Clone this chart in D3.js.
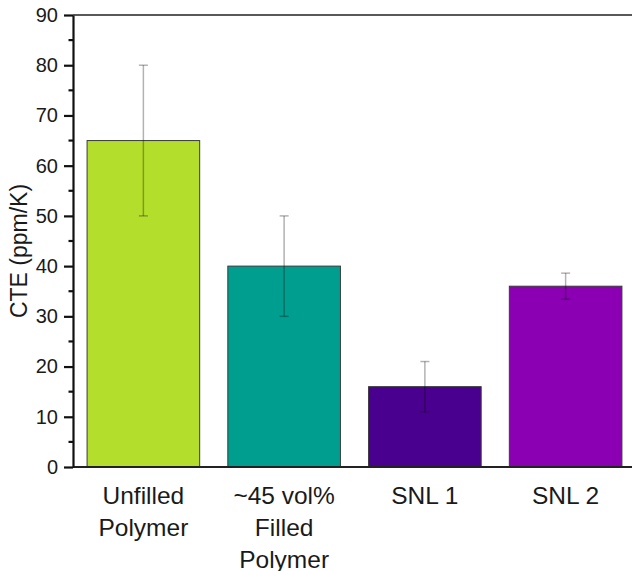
<!DOCTYPE html>
<html>
<head>
<meta charset="utf-8">
<script src="https://cdn.jsdelivr.net/npm/d3@7"></script>
<style>
  body { margin: 0; background: #fff; }
  text { font-family: "Liberation Sans", Arial, sans-serif; fill: #1a1a1a; }
</style>
</head>
<body>
<svg></svg>
<script>
var svg_width = 632;
var svg_height = 571;

// data
var categories = ['Unfilled\nPolymer', '~45 vol%\nFilled\nPolymer', 'SNL 1', 'SNL 2'];
var cte_values = [65, 40, 16, 36];
var cte_errors = [15, 10, 5, 2.6];
var bar_colors = ['#b4de2c', '#009e8e', '#4a008e', '#8b00b3'];
var major_ticks = [0, 10, 20, 30, 40, 50, 60, 70, 80, 90];
var minor_ticks = [5, 15, 25, 35, 45, 55, 65, 75, 85];

var plot_left = 73, plot_top = 15, plot_bottom = 467, plot_right = 636;

var svg = d3.select('svg')
  .attr('width', svg_width)
  .attr('height', svg_height);

var xScale = d3.scaleBand()
  .domain(d3.range(categories.length))
  .range([plot_left, plot_right])
  .paddingInner(0.2)
  .paddingOuter(0.1);

var yScale = d3.scaleLinear().domain([0, 90]).range([plot_bottom, plot_top]);

var rows = categories.map(function(c, i) {
  return {'label': c, 'value': cte_values[i], 'err': cte_errors[i], 'color': bar_colors[i], 'index': i};
});

// bars
svg.selectAll('rect.bar')
  .data(rows)
  .enter()
  .append('rect')
  .attr('class', 'bar')
  .attr('x', function(d) {return(xScale(d['index']));})
  .attr('y', function(d) {return(yScale(d['value']));})
  .attr('width', xScale.bandwidth())
  .attr('height', function(d) {return(yScale(0) - yScale(d['value']));})
  .attr('fill', function(d) {return(d['color']);})
  .attr('stroke', '#3a3a3a')
  .attr('stroke-width', 1);

// error bars, drawn semi transparent on top of the bars
var err = svg.selectAll('g.err')
  .data(rows)
  .enter()
  .append('g')
  .attr('class', 'err')
  .attr('stroke', 'rgba(0,0,0,0.3)')
  .attr('stroke-width', 1.5);

err.append('line')
  .attr('x1', function(d) {return(xScale(d['index']) + xScale.bandwidth() / 2);})
  .attr('x2', function(d) {return(xScale(d['index']) + xScale.bandwidth() / 2);})
  .attr('y1', function(d) {return(yScale(d['value'] + d['err']));})
  .attr('y2', function(d) {return(yScale(d['value'] - d['err']));});

[1, -1].forEach(function(sign) {
  err.append('line')
    .attr('x1', function(d) {return(xScale(d['index']) + xScale.bandwidth() / 2 - 4.5);})
    .attr('x2', function(d) {return(xScale(d['index']) + xScale.bandwidth() / 2 + 4.5);})
    .attr('y1', function(d) {return(yScale(d['value'] + sign * d['err']));})
    .attr('y2', function(d) {return(yScale(d['value'] + sign * d['err']));});
});

// frame: top line and bottom line
svg.append('line')
  .attr('x1', plot_left).attr('x2', plot_right)
  .attr('y1', plot_top).attr('y2', plot_top)
  .attr('stroke', '#222').attr('stroke-width', 1.5);

svg.append('line')
  .attr('x1', plot_left).attr('x2', plot_right)
  .attr('y1', plot_bottom).attr('y2', plot_bottom)
  .attr('stroke', '#222').attr('stroke-width', 2);

// y axis
var yAxis = d3.axisLeft(yScale)
  .tickValues(major_ticks)
  .tickSize(9)
  .tickPadding(6)
  .tickSizeOuter(0);

var yg = svg.append('g')
  .attr('transform', 'translate(' + plot_left + ',0)')
  .call(yAxis);

yg.select('.domain').attr('stroke', '#111').attr('stroke-width', 2.2);
yg.selectAll('.tick line').attr('stroke', '#111').attr('stroke-width', 2.2);
yg.selectAll('.tick text')
  .attr('font-size', 20)
  .attr('font-family', '"Liberation Sans", Arial, sans-serif')
  .attr('fill', '#1a1a1a');

yg.selectAll('line.minor')
  .data(minor_ticks)
  .enter()
  .append('line')
  .attr('class', 'minor')
  .attr('x1', -4.5).attr('x2', 0)
  .attr('y1', function(d) {return(yScale(d));})
  .attr('y2', function(d) {return(yScale(d));})
  .attr('stroke', '#111').attr('stroke-width', 2.2);

// y title
svg.append('text')
  .attr('transform', 'translate(27,' + 251 + ') rotate(-90)')
  .attr('text-anchor', 'middle')
  .attr('font-size', 23)
  .text('CTE (ppm/K)');

// category labels
var labels = svg.selectAll('text.cat')
  .data(rows)
  .enter()
  .append('text')
  .attr('class', 'cat')
  .attr('text-anchor', 'middle')
  .attr('font-size', 24.5)
  .attr('x', function(d) {return(xScale(d['index']) + xScale.bandwidth() / 2);})
  .attr('y', 504);

labels.selectAll('tspan')
  .data(function(d) {return(d['label'].split('\n'));})
  .enter()
  .append('tspan')
  .attr('x', function() {return(d3.select(this.parentNode).attr('x'));})
  .attr('dy', function(d, i) {return(i == 0 ? 0 : 32);})
  .text(function(d) {return(d);});
</script>
</body>
</html>
